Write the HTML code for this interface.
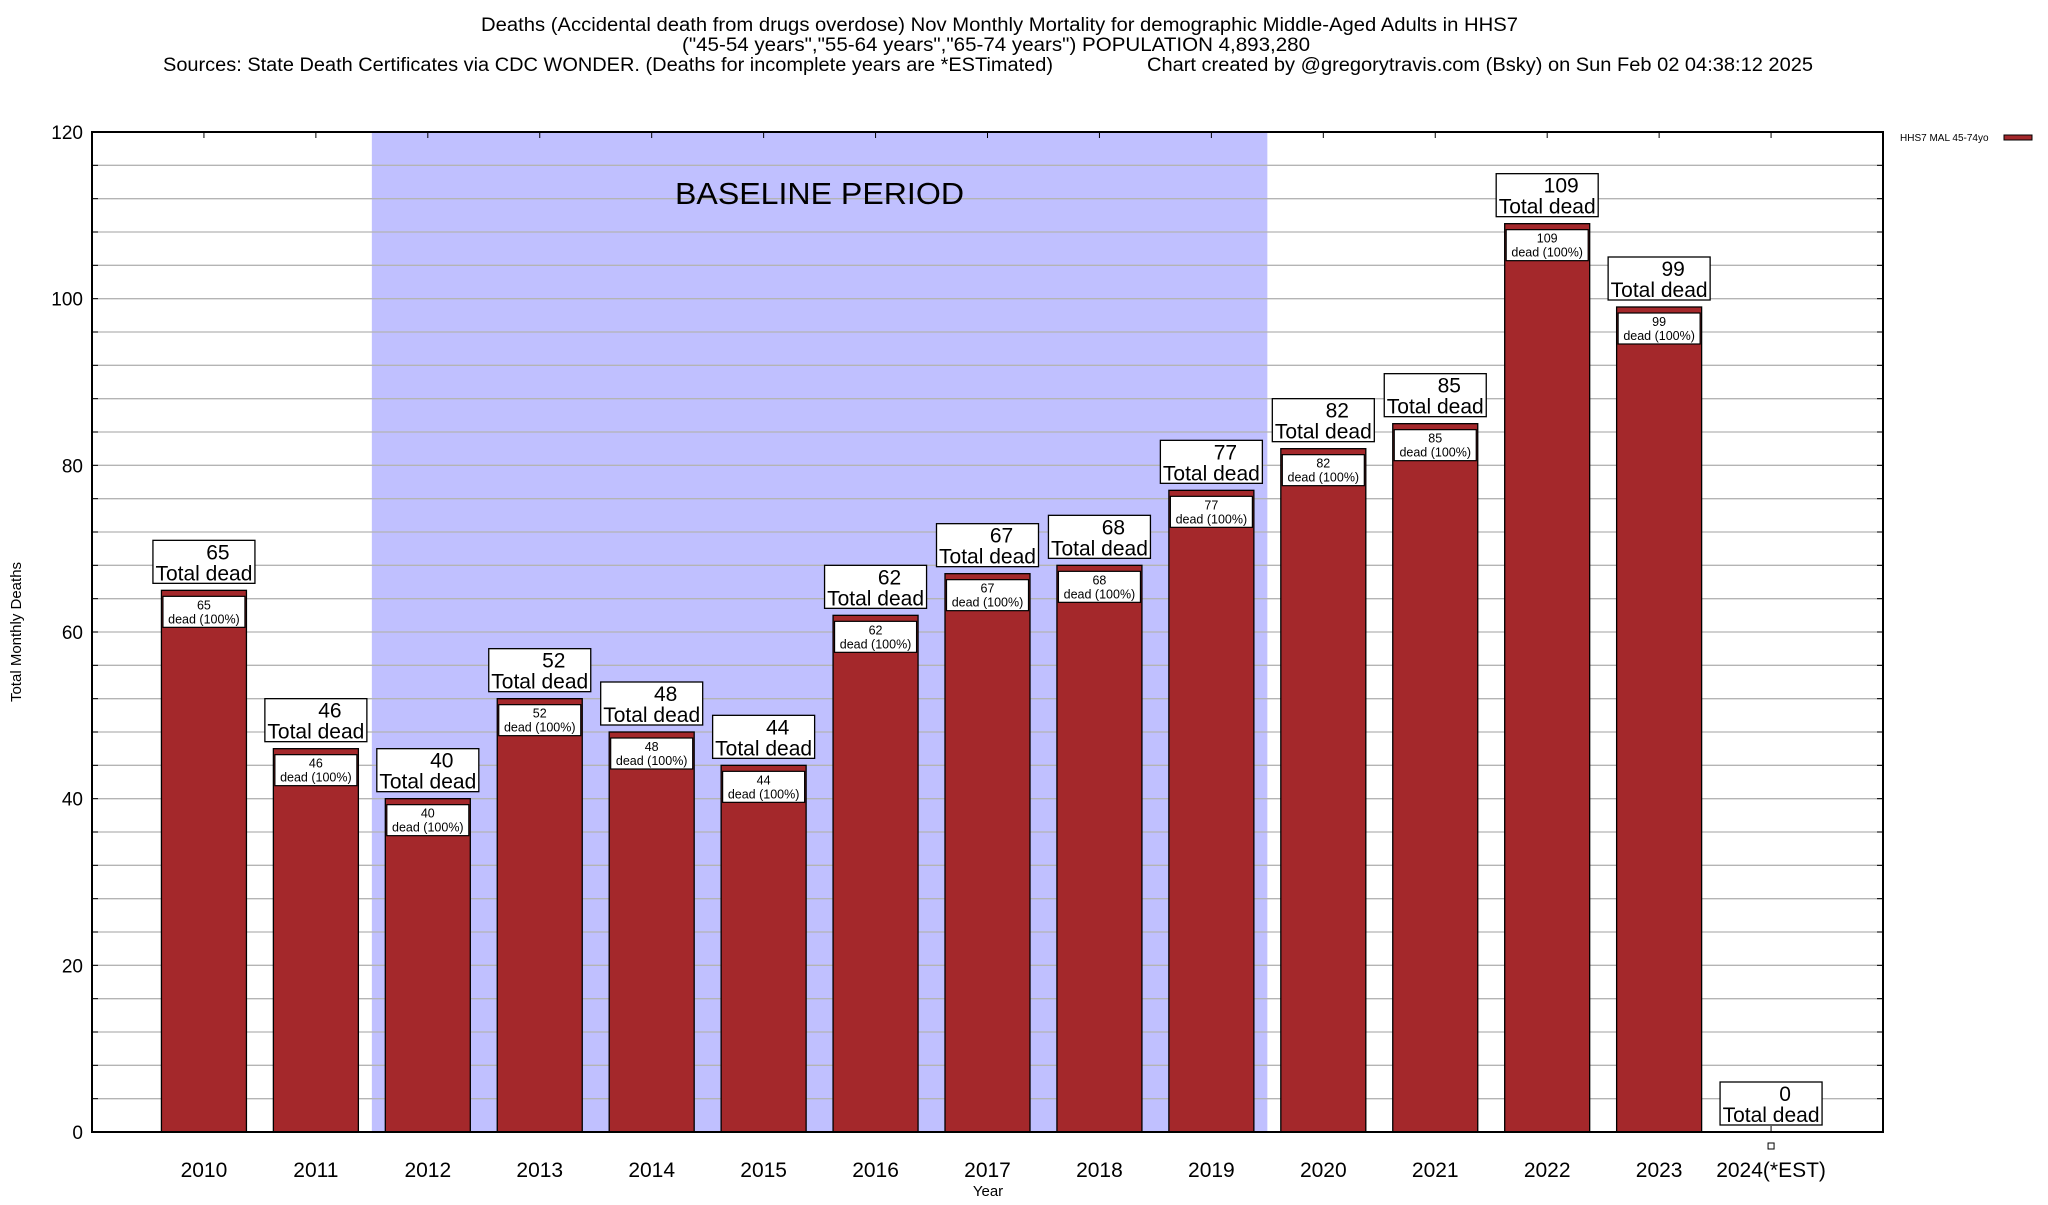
<!DOCTYPE html>
<html><head><meta charset="utf-8"><style>
body{margin:0;background:#fff;width:2048px;height:1200px;overflow:hidden}
svg{font-family:"Liberation Sans",sans-serif}
</style></head><body>
<svg id="c" width="2048" height="1200">
<text x="481" y="31" font-size="19" textLength="1037" lengthAdjust="spacingAndGlyphs">Deaths (Accidental death from drugs overdose) Nov Monthly Mortality for demographic Middle-Aged Adults in HHS7</text>
<text x="682" y="51" font-size="19" textLength="628" lengthAdjust="spacingAndGlyphs">("45-54 years","55-64 years","65-74 years") POPULATION 4,893,280</text>
<text x="163" y="71" font-size="19" textLength="890" lengthAdjust="spacingAndGlyphs">Sources: State Death Certificates via CDC WONDER. (Deaths for incomplete years are *ESTimated)</text>
<text x="1147" y="71" font-size="19" textLength="666" lengthAdjust="spacingAndGlyphs">Chart created by @gregorytravis.com (Bsky) on Sun Feb 02 04:38:12 2025</text>
<g id="plot"></g>
</svg>
<script>
const categories=["2010","2011","2012","2013","2014","2015","2016","2017","2018","2019","2020","2021","2022","2023","2024(*EST)"];
const deaths=[65,46,40,52,48,44,62,67,68,77,82,85,109,99,0];
const yTicks=[0,20,40,60,80,100,120];
const baseline=[1.5,9.5];
const L=92,R=1883,T=132,B=1132;
const xs=i=>L+(i+1)*(R-L)/16;
const ys=v=>B-(v/120)*(B-T);
const g=document.getElementById('plot');
const NS='http://www.w3.org/2000/svg';
function mk(t,a,txt){const e=document.createElementNS(NS,t);for(const k in a)e.setAttribute(k,a[k]);if(txt!==undefined)e.textContent=txt;g.appendChild(e);return e;}
let e;
e=mk('rect',{x:xs(baseline[0]),y:T,width:xs(baseline[1])-xs(baseline[0]),height:B-T,fill:'#c0c0ff'});


for(let v=4;v<120;v+=4){
 e=mk('line',{x1:L,x2:R,y1:ys(v),y2:ys(v),stroke:'#b4b4b4','stroke-width':1.3});
 
 
 mk('line',{x1:L,x2:L+6,y1:ys(v),y2:ys(v),stroke:'#000'});
 mk('line',{x1:R-6,x2:R,y1:ys(v),y2:ys(v),stroke:'#000'});
}
e=mk('text',{x:675,y:204,'font-size':31,textLength:289,lengthAdjust:'spacingAndGlyphs'},'BASELINE PERIOD');


yTicks.forEach(v=>{
 e=mk('text',{x:83,y:ys(v)+7,'font-size':19,'text-anchor':'end'},String(v));
 
 
});
deaths.forEach((v,i)=>{
 const cx=xs(i),bw=85;
 mk('line',{x1:cx,x2:cx,y1:T,y2:T+6,stroke:'#000'});
 mk('line',{x1:cx,x2:cx,y1:B-6,y2:B,stroke:'#000'});
 if(v>0){
  e=mk('rect',{x:cx-bw/2,y:ys(v),width:bw,height:B-ys(v),fill:'#a4282b',stroke:'#000','stroke-width':1.3});
  
  
  e=mk('rect',{x:cx-41,y:ys(v)+6,width:82,height:31,fill:'#fff',stroke:'#000','stroke-width':1.2});
  
  
  mk('text',{x:cx,y:ys(v)+19,'font-size':12.5,'text-anchor':'middle'},String(v));
  mk('text',{x:cx,y:ys(v)+33,'font-size':12.5,'text-anchor':'middle'},'dead (100%)');
 } else {
  mk('rect',{x:cx-3,y:B+11,width:6,height:6,fill:'#fff',stroke:'#000'});
 }
 const by=ys(v)-7;
 e=mk('rect',{x:cx-51,y:by-43,width:102,height:43,fill:'#fff',stroke:'#000','stroke-width':1.3});
 
 
 mk('text',{x:cx+14,y:by-24,'font-size':21,'text-anchor':'middle'},String(v));
 mk('text',{x:cx,y:by-3,'font-size':21,'text-anchor':'middle'},'Total dead');
 e=mk('text',{x:cx,y:1177,'font-size':21,'text-anchor':'middle'},categories[i]);
 
 
});
e=mk('rect',{x:L,y:T,width:R-L,height:B-T,fill:'none',stroke:'#000','stroke-width':2});


e=mk('text',{x:988,y:1196,'font-size':15,'text-anchor':'middle'},'Year');


e=mk('text',{x:0,y:0,'font-size':15,'text-anchor':'middle',transform:'translate(21,632) rotate(-90)'},'Total Monthly Deaths');


e=mk('text',{x:1900,y:141,'font-size':10},'HHS7 MAL 45-74yo');


e=mk('rect',{x:2004,y:135,width:28,height:5,fill:'#a4282b',stroke:'#000'});


</script>
</body></html>
